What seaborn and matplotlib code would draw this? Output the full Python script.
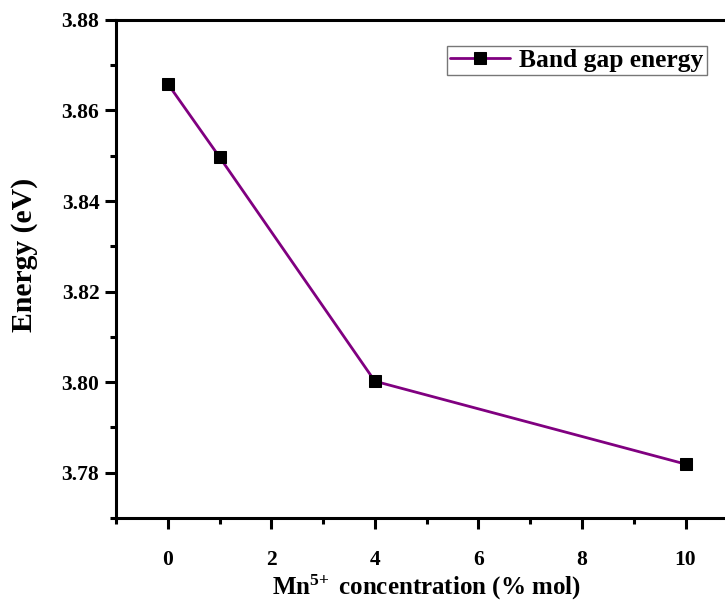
import matplotlib
matplotlib.use("Agg")
import matplotlib.pyplot as plt
from matplotlib.ticker import MultipleLocator, FormatStrFormatter
import seaborn as sns
import pandas as pd

# Band gap energy vs. Mn5+ doping level
concentration = [0, 1, 4, 10]
energy = [3.8659, 3.8497, 3.8002, 3.7819]
series_label = "Band gap energy"

sns.set_style("ticks")
plt.rcParams["font.family"] = ["Liberation Serif", "DejaVu Serif"]
plt.rcParams["font.weight"] = "bold"
plt.rcParams["text.color"] = "black"
plt.rcParams["axes.labelcolor"] = "black"
plt.rcParams["mathtext.fontset"] = "custom"
plt.rcParams["mathtext.rm"] = "Liberation Serif:bold"
plt.rcParams["mathtext.bf"] = "Liberation Serif:bold"
plt.rcParams["mathtext.it"] = "Liberation Serif:bold:italic"

df = pd.DataFrame({"conc": concentration, "energy": energy, "series": series_label})

fig = plt.figure(figsize=(7.25, 6.03), dpi=100)
ax = fig.add_axes([0.16, 0.141, 0.857, 0.826])

sns.lineplot(data=df, x="conc", y="energy", hue="series", palette=["#800080"],
             marker="s", markersize=8.5, markerfacecolor="black", markeredgecolor="black",
             linewidth=2, ax=ax)

ax.set_xlim(-1, 11)
ax.set_ylim(3.77, 3.88)
ax.xaxis.set_major_locator(MultipleLocator(2))
ax.xaxis.set_minor_locator(MultipleLocator(1))
ax.yaxis.set_major_locator(MultipleLocator(0.02))
ax.yaxis.set_minor_locator(MultipleLocator(0.01))
ax.yaxis.set_major_formatter(FormatStrFormatter("%.2f"))

for s in ax.spines.values():
    s.set_linewidth(2.2)
    s.set_color("black")
ax.tick_params(which="major", direction="out", length=8, width=2.2, labelsize=15.5,
               pad=4, colors="black")
ax.tick_params(which="minor", direction="out", length=4.5, width=2.2, colors="black")
ax.tick_params(axis="x", which="major", pad=15)
for lbl in ax.get_xticklabels() + ax.get_yticklabels():
    lbl.set_fontweight("bold")

ax.set_xlabel(r"Mn$^{5\!+}$ concentration (% mol)", fontsize=18, fontweight="bold")
ax.set_ylabel("Energy (eV)", fontsize=21.4, fontweight="bold")
ax.xaxis.set_label_coords(0.5, -0.11)
ax.yaxis.set_label_coords(-0.126, 0.528)

leg = ax.legend(loc="upper left", bbox_to_anchor=(0.533, 0.948), frameon=True,
                fancybox=False, edgecolor="#555555",
                prop={"weight": "bold", "size": 18.4}, handlelength=2.35,
                borderpad=0.12, handletextpad=0.35, borderaxespad=0)
leg.get_frame().set_linewidth(1.0)
for t in leg.get_texts():
    t.set_color("black")

fig.savefig("out.png", dpi=100)
